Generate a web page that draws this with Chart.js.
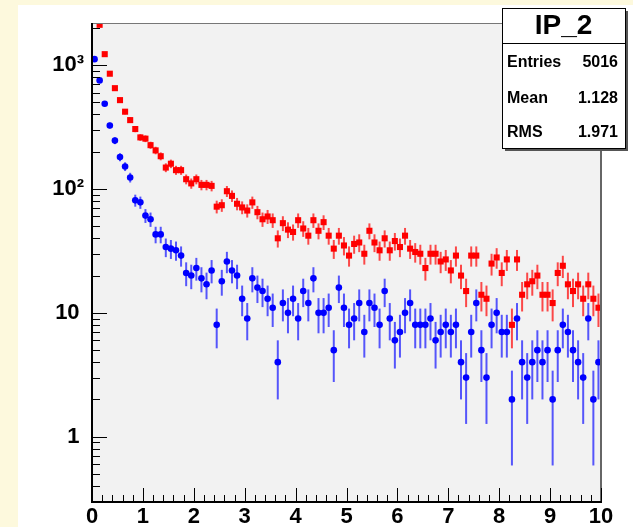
<!DOCTYPE html>
<html>
<head>
<meta charset="utf-8">
<script src="https://cdn.jsdelivr.net/npm/chart.js@4.4.1/dist/chart.umd.min.js"></script>
<style>
  html, body { margin: 0; padding: 0; background: #fdf9dd; }
  canvas { display: block; }
</style>
</head>
<body>
<canvas id="graficoIP" width="633" height="527"></canvas>
<script>
// Histograma IP_2: 100 bins de 0 a 10
const binInicio = 0;
const binAncho = 0.1;

// Serie roja (cuadrados); el primer bin se sale por arriba
const rojo = [
  null, 2118, 1227, 853, 652, 522, 421, 360, 305, 261,
  255, 226, 205, 184, 149, 160, 142, 142, 120, 111,
  120, 108, 108, 106, 72, 74, 96, 88, 76, 71,
  67, 78, 65, 57, 60, 56, 40, 53, 47, 45,
  56, 48, 42, 56, 46, 54, 42, 33, 42, 35,
  29, 36, 37, 30, 46, 37, 32, 40, 32, 38,
  34, 42, 33, 31, 30, 23, 30, 30, 26, 27,
  22, 29, 20, 15, 29, 29, 14, 13, 25, 28,
  21, 27, 8, 27, 14, 17, 18, 20, 14, 14,
  12, 21, 24, 17, 15, 17, 13, 17, 13, 11
];

// Serie azul (circulos)
const azul = [
  1118, 753, 488, 326, 246, 181, 152, 124, 81, 78,
  61, 57, 43, 43, 34, 33, 32, 29, 21, 20,
  23, 19, 17, 22, 8, 18, 26, 22, 20, 13,
  9, 19, 16, 15, 13, 11, 4, 12, 10, 13,
  9, 15, 12, 19, 10, 10, 11, 5, 16, 11,
  8, 9, 12, 7, 12, 11, 8, 15, 9, 6,
  7, 10, 12, 8, 8, 8, 9, 6, 7, 8,
  7, 8, 4, 3, 7, 12, 5, 3, 8, 10,
  7, 7, 2, 9, 4, 3, 4, 5, 4, 5,
  2, 5, 8, 7, 5, 4, 3, 9, 2, 4
];

const xTicks = [0, 1, 2, 3, 4, 5, 6, 7, 8, 9, 10];
const yTicks = [1, 10, 100, 1000];
// espacio fino al final para alinear con las potencias
const yTickLabels = ['1\u2009', '10\u2009', '10²', '10³'];

const tituloStats = 'IP_2';
const statsNombres = ['Entries', 'Mean', 'RMS'];
const statsValores = ['5016', '1.128', '1.971'];

const fuente = 'Liberation Sans, Arial, sans-serif';

// convierte la lista de cuentas en puntos (centro del bin, cuentas)
const puntos = (cuentas) => cuentas
    .map((c, i) => ({ x: binInicio + binAncho * (i + 0.5), y: c }))
    .filter(p => p.y !== null);

// Fondo amarillo, panel blanco y area del grafico gris
const fondo = {
    id: 'fondo',
    beforeDraw(chart) {
        const { ctx, chartArea: a } = chart;
        ctx.save();
        ctx.fillStyle = '#fdf9dd';
        ctx.fillRect(0, 0, chart.width, chart.height);
        ctx.fillStyle = '#ffffff';
        ctx.fillRect(18, 5, chart.width - 18, chart.height - 5);
        ctx.fillStyle = '#f2f2f2';
        ctx.fillRect(a.left, a.top, a.right - a.left, a.bottom - a.top);
        ctx.restore();
    }
};

// Barras de error sqrt(N)
const barrasError = {
    id: 'barrasError',
    beforeDatasetsDraw(chart) {
        const { ctx, chartArea: a, scales: { x, y } } = chart;
        ctx.save();
        ctx.beginPath();
        ctx.rect(a.left, a.top, a.right - a.left, a.bottom - a.top);
        ctx.clip();
        chart.data.datasets.forEach(ds => {
            ctx.strokeStyle = ds.colorError;
            ctx.lineWidth = 2;
            ds.data.forEach(p => {
                const e = Math.sqrt(p.y);
                const px = x.getPixelForValue(p.x);
                const arriba = y.getPixelForValue(p.y + e);
                const abajo = p.y - e > 0 ? y.getPixelForValue(p.y - e) : a.bottom;
                ctx.beginPath();
                ctx.moveTo(px, arriba);
                ctx.lineTo(px, abajo);
                ctx.stroke();
            });
        });
        ctx.restore();
    }
};

// Marco, ticks hacia dentro y caja de estadisticas
const marco = {
    id: 'marco',
    afterDraw(chart) {
        const { ctx, chartArea: a, scales: { x, y } } = chart;
        ctx.save();

        // borde superior y derecho (gris)
        ctx.strokeStyle = '#777777';
        ctx.lineWidth = 1;
        ctx.beginPath();
        ctx.moveTo(a.left, a.top + 0.5);
        ctx.lineTo(a.right, a.top + 0.5);
        ctx.stroke();
        ctx.strokeStyle = '#666666';
        ctx.lineWidth = 2;
        ctx.beginPath();
        ctx.moveTo(a.right, a.top);
        ctx.lineTo(a.right, a.bottom);
        ctx.stroke();

        // ticks del eje x
        ctx.strokeStyle = '#000000';
        ctx.lineWidth = 1;
        ctx.beginPath();
        for (let k = 0; k <= 50; k++) {
            const px = Math.round(x.getPixelForValue(k / 5)) + 0.5;
            const largo = k % 5 === 0 ? 14 : 7;
            ctx.moveTo(px, a.bottom);
            ctx.lineTo(px, a.bottom - largo);
        }
        // ticks del eje y (log)
        for (let d = -1; d <= 3; d++) {
            for (let m = 1; m <= 9; m++) {
                const v = m * Math.pow(10, d);
                if (v < y.min || v > y.max) continue;
                const py = Math.round(y.getPixelForValue(v)) + 0.5;
                const largo = m === 1 ? 15 : 8;
                ctx.moveTo(a.left, py);
                ctx.lineTo(a.left + largo, py);
            }
        }
        ctx.stroke();

        // ejes negros
        ctx.lineWidth = 2;
        ctx.beginPath();
        ctx.moveTo(a.left, a.top);
        ctx.lineTo(a.left, a.bottom);
        ctx.lineTo(a.right + 1, a.bottom);
        ctx.stroke();

        // caja de estadisticas
        const bx = 502, by = 8, bw = 123, bh = 140;
        ctx.fillStyle = '#555555';
        ctx.fillRect(bx + 3, by + 3, bw, bh);
        ctx.fillStyle = '#ffffff';
        ctx.fillRect(bx, by, bw, bh);
        ctx.strokeStyle = '#000000';
        ctx.lineWidth = 1;
        ctx.strokeRect(bx + 0.5, by + 0.5, bw, bh);
        ctx.beginPath();
        ctx.moveTo(bx, 43.5);
        ctx.lineTo(bx + bw, 43.5);
        ctx.stroke();

        ctx.fillStyle = '#000000';
        ctx.textBaseline = 'middle';
        ctx.textAlign = 'center';
        ctx.font = `bold 28px ${fuente}`;
        ctx.fillText(tituloStats, bx + bw / 2, 26);
        ctx.font = `bold 16px ${fuente}`;
        const filas = [63, 99, 133];
        statsNombres.forEach((n, i) => {
            ctx.textAlign = 'left';
            ctx.fillText(n, bx + 5, filas[i]);
            ctx.textAlign = 'right';
            ctx.fillText(statsValores[i], bx + bw - 7, filas[i]);
        });
        ctx.restore();
    }
};

const fuenteEjes = { family: fuente, size: 22, weight: 'bold' };

new Chart(document.getElementById('graficoIP'), {
    type: 'scatter',
    data: {
        datasets: [
            {
                label: 'rojo',
                data: puntos(rojo),
                pointStyle: 'rect',
                pointRadius: 4.3,
                pointBackgroundColor: '#ff0000',
                pointBorderWidth: 0,
                colorError: 'rgba(255, 0, 0, 0.7)'
            },
            {
                label: 'IP_2',
                data: puntos(azul),
                pointStyle: 'circle',
                pointRadius: 3.3,
                pointBackgroundColor: '#0000ff',
                pointBorderWidth: 0,
                colorError: 'rgba(0, 0, 255, 0.65)'
            }
        ]
    },
    options: {
        responsive: false,
        animation: false,
        layout: { padding: { top: 23, right: 32, left: 0, bottom: 0 } },
        plugins: {
            legend: { display: false },
            tooltip: { enabled: false }
        },
        scales: {
            x: {
                type: 'linear',
                min: 0,
                max: 10,
                afterBuildTicks: s => { s.ticks = xTicks.map(v => ({ value: v })); },
                afterFit: s => { s.height = 25; },
                grid: { display: false, drawTicks: false },
                border: { display: false },
                ticks: {
                    autoSkip: false,
                    maxRotation: 0,
                    padding: 2,
                    color: '#000000',
                    font: fuenteEjes
                }
            },
            y: {
                type: 'logarithmic',
                min: 0.297,
                max: 2190,
                afterBuildTicks: s => { s.ticks = yTicks.map(v => ({ value: v })); },
                afterFit: s => { s.width = 92; },
                grid: { display: false, drawTicks: false },
                border: { display: false },
                ticks: {
                    padding: 8,
                    color: '#000000',
                    font: fuenteEjes,
                    callback: (v, i) => yTickLabels[i]
                }
            }
        }
    },
    plugins: [fondo, barrasError, marco]
});
</script>
</body>
</html>
